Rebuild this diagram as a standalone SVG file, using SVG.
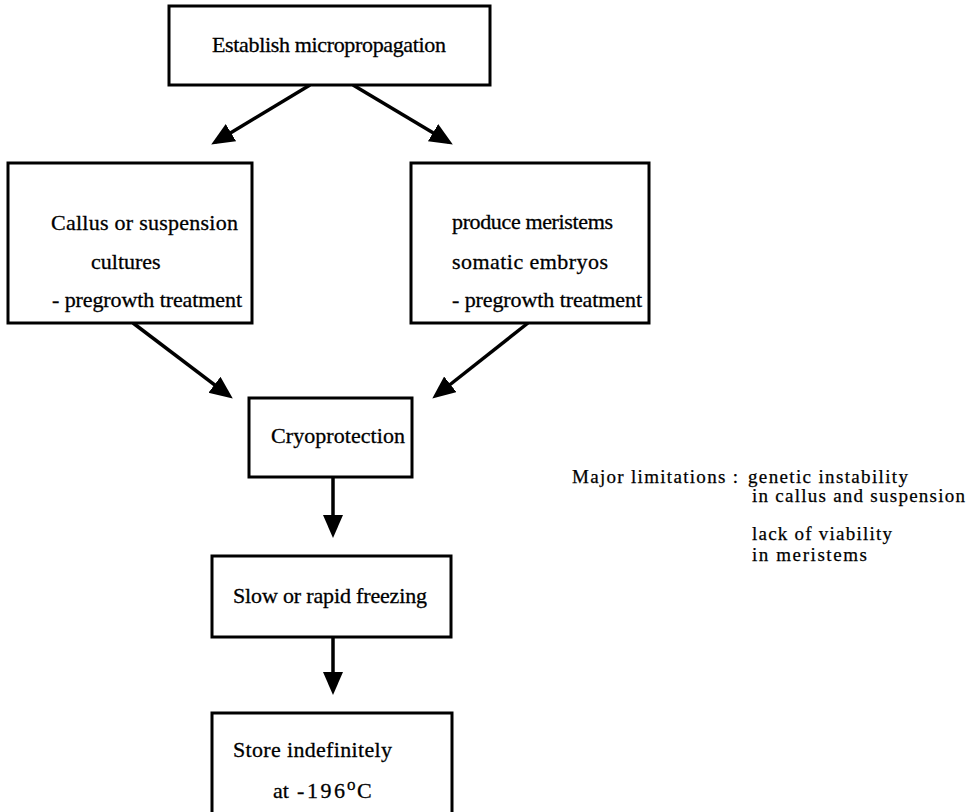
<svg xmlns="http://www.w3.org/2000/svg" width="971" height="812" viewBox="0 0 971 812">
<style>
.box{fill:#fff;stroke:#000;stroke-width:3}
.t{font-family:"Liberation Serif","Times New Roman",serif;font-size:22px;fill:#000;stroke:#000;stroke-width:0.3}
.n{font-family:"Liberation Serif","Times New Roman",serif;font-size:19px;fill:#000;stroke:#000;stroke-width:0.25}
.c{stroke:#000;stroke-width:3.5;fill:none;marker-end:url(#ah)}
</style>
<defs>
<marker id="ah" markerUnits="userSpaceOnUse" markerWidth="24" markerHeight="22" refX="18" refY="10" orient="auto">
<path d="M0,0 L23,10 L0,20 z" fill="#000"/>
</marker>
</defs>
<rect width="971" height="812" fill="#fff"/>
<g id="connectors">
<line class="c" x1="310" y1="85" x2="215.5" y2="141.9"/>
<line class="c" x1="353" y1="85" x2="448.5" y2="141.9"/>
<line class="c" x1="133" y1="323" x2="228.8" y2="395.6"/>
<line class="c" x1="528" y1="323" x2="436.2" y2="395.5"/>
<line class="c" x1="333" y1="478" x2="333" y2="533"/>
<line class="c" x1="333" y1="637" x2="333" y2="690"/>
</g>
<g id="n1">
<rect class="box" x="169" y="6" width="321" height="79"/>
<text class="t" x="212" y="52" textLength="234">Establish  micropropagation</text>
</g>
<g id="n2">
<rect class="box" x="8" y="163" width="244" height="160"/>
<text class="t" x="51" y="230" textLength="187">Callus or suspension</text>
<text class="t" x="91" y="269">cultures</text>
<text class="t" x="52" y="307" textLength="190">- pregrowth treatment</text>
</g>
<g id="n3">
<rect class="box" x="411" y="163" width="238" height="160"/>
<text class="t" x="452" y="229" textLength="161">produce meristems</text>
<text class="t" x="452" y="269" textLength="156">somatic  embryos</text>
<text class="t" x="452" y="307" textLength="190">- pregrowth treatment</text>
</g>
<g id="n4">
<rect class="box" x="249" y="398" width="163" height="79"/>
<text class="t" x="271" y="443" textLength="134">Cryoprotection</text>
</g>
<g id="n5">
<rect class="box" x="212" y="556" width="239" height="81"/>
<text class="t" x="233" y="603" textLength="194">Slow or rapid freezing</text>
</g>
<g id="n6">
<rect class="box" x="212" y="713" width="240" height="110"/>
<text class="t" x="233" y="757" textLength="159">Store  indefinitely</text>
<text class="t" x="273" y="798">at<tspan x="297" textLength="48">-196</tspan><tspan x="347" y="790" font-size="17">o</tspan><tspan x="357" y="798">C</tspan></text>
</g>
<g id="notes">
<text class="n" x="572" y="483" textLength="166">Major limitations :</text>
<text class="n" x="748" y="483" textLength="160">genetic instability</text>
<text class="n" x="752" y="502" textLength="213">in callus and suspension</text>
<text class="n" x="752" y="540" textLength="140">lack of viability</text>
<text class="n" x="752" y="561" textLength="115">in meristems</text>
</g>
</svg>
